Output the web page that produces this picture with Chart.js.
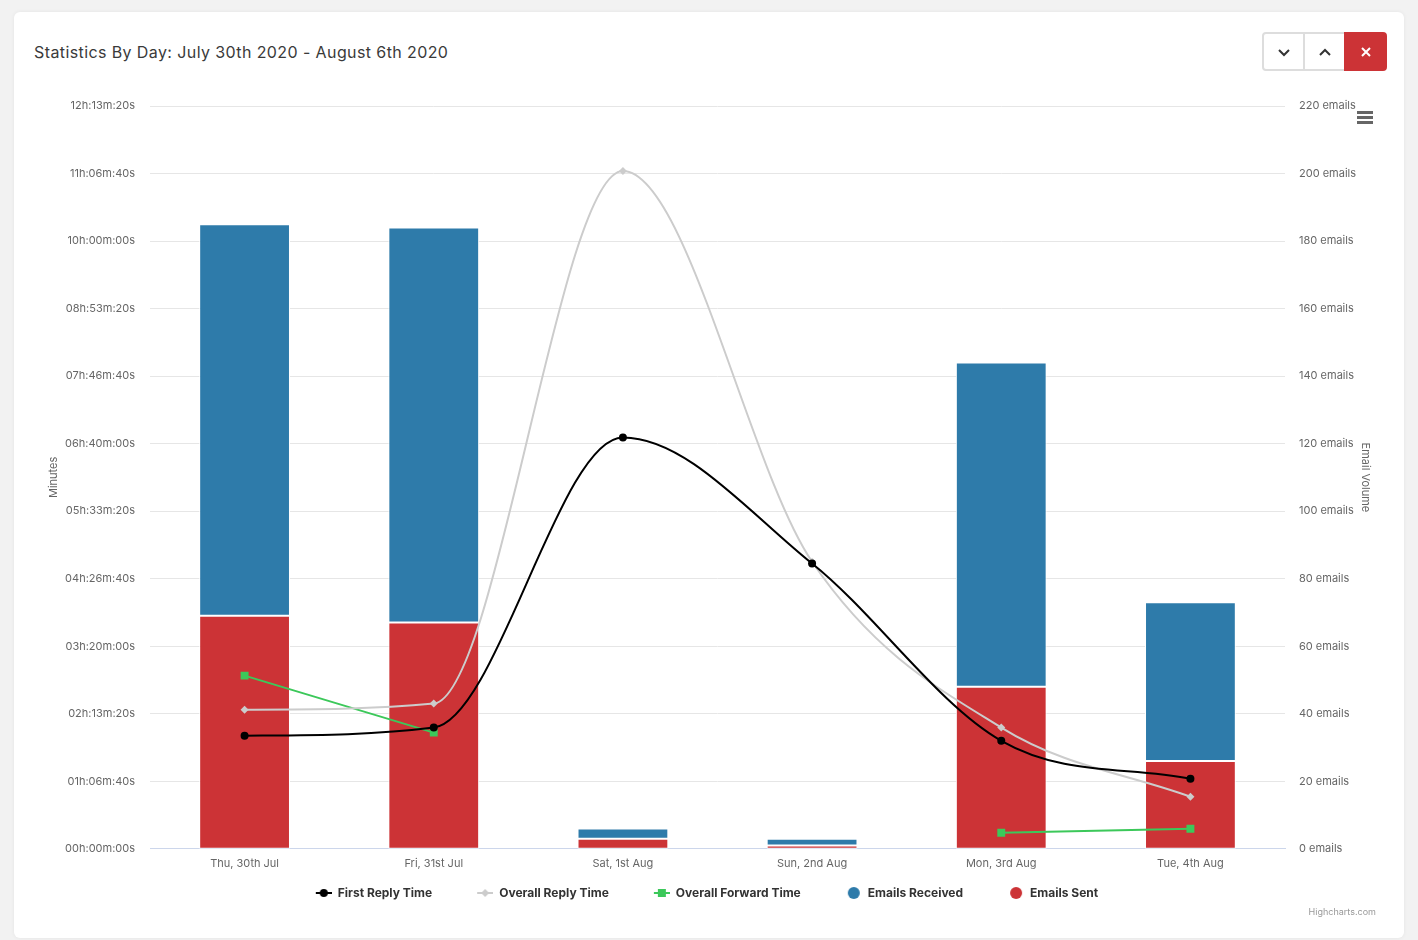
<!DOCTYPE html>
<html>
<head>
<meta charset="utf-8">
<script src="https://cdn.jsdelivr.net/npm/chart.js@4"></script>
<style>
  html, body { margin: 0; padding: 0; background: #f2f2f2; }
  body { width: 1418px; height: 940px; position: relative; overflow: hidden; font-family: Inter, Roboto, sans-serif; }
  .card { position: absolute; left: 14px; top: 12px; width: 1390px; height: 926px; background: #fff; border-radius: 6px; box-shadow: 0 0 4px rgba(0,0,0,0.06); }
  .title { position: absolute; left: 34px; top: 42px; font-size: 16px; color: #3a3a3a; letter-spacing: 0.4px; white-space: nowrap; }
  .btns { position: absolute; left: 1262px; top: 32px; height: 39px; display: flex; }
  .btn { width: 39px; height: 35px; border: 2px solid #ddd; background: #fff; display: flex; align-items: center; justify-content: center; box-sizing: content-box; }
  .btn.first { border-radius: 4px 0 0 4px; border-right-width: 1px; }
  .btn.mid { border-left-width: 1px; border-right-width: 0; }
  .btn.close { background: #cc3336; border-color: #cc3336; border-radius: 0 4px 4px 0; }
  .menu { position: absolute; left: 1357px; top: 111px; width: 16px; }
  .menu span { display: block; height: 2.5px; background: #666; margin-bottom: 2.5px; }
  .credit { position: absolute; right: 42px; top: 906px; font-size: 9px; color: #999; }
  #chart { position: absolute; left: 0; top: 0; }
</style>
</head>
<body>
<div class="card"></div>
<div class="title">Statistics By Day: July 30th 2020 - August 6th 2020</div>
<div class="btns">
  <div class="btn first"><svg width="14" height="10"><polyline points="2,3 7,8 12,3" fill="none" stroke="#333" stroke-width="2"/></svg></div>
  <div class="btn mid"><svg width="14" height="10"><polyline points="2,8 7,3 12,8" fill="none" stroke="#333" stroke-width="2"/></svg></div>
  <div class="btn close"><svg width="12" height="12"><path d="M2,2 L10,10 M10,2 L2,10" stroke="#fff" stroke-width="2"/></svg></div>
</div>
<div class="menu"><span></span><span></span><span></span></div>
<canvas id="chart" width="1418" height="940"></canvas>
<div class="credit">Highcharts.com</div>
<script>
// days on the x axis
const categories = ['Thu, 30th Jul', 'Fri, 31st Jul', 'Sat, 1st Aug', 'Sun, 2nd Aug', 'Mon, 3rd Aug', 'Tue, 4th Aug'];
// times in seconds
const firstReplyTime = [6700, 7180, 24370, 16900, 6400, 4150];
const overallReplyTime = [8240, 8600, 40150, 17000, 7180, 3080];
const overallForwardTime = [10260, 6880, null, null, 950, 1190];
// email counts
const emailsSent = [69, 67, 3, 1, 48, 26];
const emailsReceived = [116, 117, 3, 2, 96, 47];
// axis ranges
const timeMax = 44000, timeStep = 4000;
const emailMax = 220, emailStep = 20;

const FONT = 'Inter';
const pad2 = n => String(n).padStart(2, '0');
const fmtTime = s => {
  const h = Math.floor(s / 3600), m = Math.floor((s % 3600) / 60), sec = Math.round(s % 60);
  return pad2(h) + 'h:' + pad2(m) + 'm:' + pad2(sec) + 's';
};

// legend icons: blank gap on the left, then line + marker or a dot
const ICON_W = 52;
const makeIcon = (kind, color) => {
  const c = document.createElement('canvas');
  c.width = ICON_W; c.height = 12;
  const g = c.getContext('2d');
  g.fillStyle = color; g.strokeStyle = color;
  if (kind === 'dot') {
    g.beginPath(); g.arc(ICON_W - 8, 6, 6, 0, Math.PI * 2); g.fill();
    return c;
  }
  const cx = ICON_W - 8;
  g.lineWidth = 2;
  g.beginPath(); g.moveTo(ICON_W - 16, 6); g.lineTo(ICON_W, 6); g.stroke();
  g.beginPath();
  if (kind === 'circle') g.arc(cx, 6, 4, 0, Math.PI * 2);
  if (kind === 'diamond') { g.moveTo(cx, 2); g.lineTo(cx + 4, 6); g.lineTo(cx, 10); g.lineTo(cx - 4, 6); g.closePath(); }
  if (kind === 'square') g.rect(cx - 4, 2, 8, 8);
  g.fill();
  return c;
};

const BLACK = '#000000', GREY = '#cccccc', GREEN = '#3cc85a', BLUE = '#2e7baa', RED = '#cc3336';
const legendIcons = [makeIcon('circle', BLACK), makeIcon('diamond', GREY), makeIcon('square', GREEN), makeIcon('dot', RED), makeIcon('dot', BLUE)];
const legendOrder = [0, 1, 2, 4, 3];

new Chart(document.getElementById('chart'), {
  data: {
    labels: categories,
    datasets: [
      { type: 'line', label: 'First Reply Time', data: firstReplyTime, yAxisID: 'yTime', order: 0,
        borderColor: BLACK, backgroundColor: BLACK, borderWidth: 2, cubicInterpolationMode: 'monotone',
        pointStyle: 'circle', pointRadius: 4, pointBorderWidth: 0 },
      { type: 'line', label: 'Overall Reply Time', data: overallReplyTime, yAxisID: 'yTime', order: 0,
        borderColor: GREY, backgroundColor: GREY, borderWidth: 2, cubicInterpolationMode: 'monotone',
        pointStyle: 'rectRot', pointRadius: 4, pointBorderWidth: 0 },
      { type: 'line', label: 'Overall Forward Time', data: overallForwardTime, yAxisID: 'yTime', order: 0,
        borderColor: GREEN, backgroundColor: GREEN, borderWidth: 2, tension: 0, spanGaps: false,
        pointStyle: 'rect', pointRadius: 5.6, pointBorderWidth: 0 },
      { type: 'bar', label: 'Emails Sent', data: emailsSent, yAxisID: 'yEmails', stack: 'emails', order: 1,
        backgroundColor: RED, borderColor: '#ffffff', borderWidth: 1, borderSkipped: false,
        categoryPercentage: 1, barPercentage: 0.48 },
      { type: 'bar', label: 'Emails Received', data: emailsReceived, yAxisID: 'yEmails', stack: 'emails', order: 1,
        backgroundColor: BLUE, borderColor: '#ffffff', borderWidth: 1, borderSkipped: false,
        categoryPercentage: 1, barPercentage: 0.48 }
    ]
  },
  options: {
    responsive: false,
    animation: false,
    layout: { padding: { top: 106, left: 0, right: 40, bottom: 31 } },
    scales: {
      x: {
        stacked: true,
        grid: { display: false, drawTicks: false },
        border: { display: true, color: '#ccd6eb', width: 1 },
        ticks: { color: '#666', font: { family: FONT, size: 11 }, padding: 8, maxRotation: 0 }
      },
      yTime: {
        position: 'left', min: 0, max: timeMax,
        grid: { color: '#e6e6e6', drawTicks: false },
        border: { display: false },
        ticks: { stepSize: timeStep, color: '#666', font: { family: FONT, size: 11 }, padding: 15, callback: v => fmtTime(v) },
        title: { display: true, text: 'Minutes', color: '#666', font: { family: FONT, size: 11 }, padding: { top: 47, bottom: 0 } },
        afterFit: s => { s.width = 150; }
      },
      yEmails: {
        position: 'right', min: 0, max: emailMax, stacked: true,
        grid: { display: false, drawTicks: false },
        border: { display: false },
        ticks: { stepSize: emailStep, color: '#666', font: { family: FONT, size: 11 }, padding: 14, callback: v => v + ' emails' },
        title: { display: true, text: 'Email Volume', color: '#666', font: { family: FONT, size: 11 }, padding: { top: 6, bottom: 0 } },
        afterFit: s => { s.width = 93; }
      }
    },
    plugins: {
      tooltip: { enabled: false },
      legend: {
        position: 'bottom',
        labels: {
          usePointStyle: true, pointStyleWidth: ICON_W, boxHeight: 12, padding: 9,
          color: '#333', font: { family: FONT, size: 12, weight: 'bold' },
          generateLabels: chart => {
            const items = Chart.defaults.plugins.legend.labels.generateLabels(chart);
            items.forEach(it => { it.pointStyle = legendIcons[it.datasetIndex]; it.fontColor = '#333'; });
            return items;
          },
          sort: (a, b) => legendOrder.indexOf(a.datasetIndex) - legendOrder.indexOf(b.datasetIndex)
        }
      }
    }
  }
});
</script>
</body>
</html>
